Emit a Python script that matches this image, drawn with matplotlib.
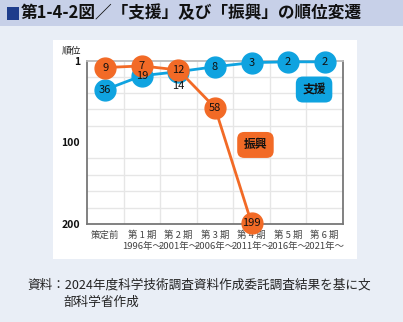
import matplotlib
matplotlib.use("Agg")
import matplotlib.pyplot as plt
from matplotlib.patches import Rectangle

plt.rcParams["font.family"] = ["Noto Sans CJK JP", "DejaVu Sans"]

periods = ["策定前", "第 1 期\n1996年～", "第 2 期\n2001年～", "第 3 期\n2006年～",
           "第 4 期\n2011年～", "第 5 期\n2016年～", "第 6 期\n2021年～"]
shien = [36, 19, 14, 8, 3, 2, 2]
shinko = [9, 7, 12, 58, 199]

BLUE = "#0FA3E0"
ORANGE = "#F26A26"

fig = plt.figure(figsize=(4.03, 3.22), dpi=100)
fig.patch.set_facecolor("#E9EEF6")

# title bar and white panel
fig.patches.append(Rectangle((0, 1 - 26 / 322), 1, 26 / 322, transform=fig.transFigure,
                             facecolor="#C7D0E8", edgecolor="none", zorder=0))
fig.patches.append(Rectangle((7 / 403, 1 - 20 / 322), 12 / 403, 13 / 322, transform=fig.transFigure,
                             facecolor="#1E3C8C", edgecolor="none", zorder=1))
fig.patches.append(Rectangle((53 / 403, 1 - 259 / 322), 304 / 403, 219 / 322, transform=fig.transFigure,
                             facecolor="white", edgecolor="none", zorder=0))
fig.text(21 / 403, 1 - 13.5 / 322, "第1-4-2図／「支援」及び「振興」の順位変遷",
         fontsize=12, fontweight="bold", va="center", ha="left", color="#111111")

ax = fig.add_axes([87 / 403, 1 - 224 / 322, 256 / 403, 163 / 322])
ax.set_zorder(2)
ax.set_facecolor("white")
ax.set_xlim(-0.5, len(periods) - 0.5)
ax.set_ylim(200, 1)

ax.set_yticks([20, 40, 60, 80, 100, 120, 140, 160, 180], minor=True)
ax.set_xticks([i + 0.5 for i in range(len(periods) - 1)], minor=True)
ax.grid(True, which="minor", color="#E6E6E6", linewidth=1)
ax.set_yticks([1, 100, 200])
ax.set_yticklabels(["1", "100", "200"], fontsize=7.5, fontweight="bold", color="#111111")
ax.set_xticks(range(len(periods)))
ax.set_xticklabels(periods, fontsize=6.8, color="#444444", va="top", linespacing=1.2)
ax.tick_params(which="both", length=0)
ax.tick_params(axis="y", pad=5)
ax.tick_params(axis="x", pad=5)
for s in ax.spines.values():
    s.set_color("#777777")
    s.set_linewidth(1.3)
ax.spines["top"].set_color("#BBBBBB")

xs_b = range(len(shien))
xs_o = range(len(shinko))
ax.plot(xs_b, shien, color=BLUE, lw=2, marker="o", ms=15, mfc=BLUE, mec=BLUE,
        zorder=3, clip_on=False)
ax.plot(xs_o, shinko, color=ORANGE, lw=2, marker="o", ms=15, mfc=ORANGE, mec=ORANGE,
        zorder=4, clip_on=False)

for x, v in zip(xs_b, shien):
    # the 第2期 marker sits under the orange one, so its label goes below
    y = v + 17 if x == 2 else v
    ax.text(x, y, str(v), ha="center", va="center", fontsize=8, color="#111111", zorder=6)
for x, v in zip(xs_o, shinko):
    ax.text(x, v, str(v), ha="center", va="center", fontsize=8, color="#111111", zorder=6)

ax.text(-0.06, 1.03, "順位", transform=ax.transAxes, fontsize=7,
        color="#222222", ha="center", va="bottom")

ax.text(0.887, 0.825, "支援", transform=ax.transAxes, ha="center", va="center",
        fontsize=8.5, fontweight="bold", color="#111111", zorder=7,
        bbox=dict(boxstyle="round,pad=0.55,rounding_size=0.6", fc=BLUE, ec="none"))
ax.text(0.658, 0.485, "振興", transform=ax.transAxes, ha="center", va="center",
        fontsize=8.5, fontweight="bold", color="#111111", zorder=7,
        bbox=dict(boxstyle="round,pad=0.55,rounding_size=0.6", fc=ORANGE, ec="none"))

fig.text(27 / 403, 1 - 285 / 322, "資料：2024年度科学技術調査資料作成委託調査結果を基に文",
         fontsize=9.1, va="center", ha="left", color="#222222")
fig.text(63 / 403, 1 - 302 / 322, "部科学省作成",
         fontsize=9.1, va="center", ha="left", color="#222222")

fig.savefig("out.png", dpi=100, facecolor=fig.get_facecolor())
